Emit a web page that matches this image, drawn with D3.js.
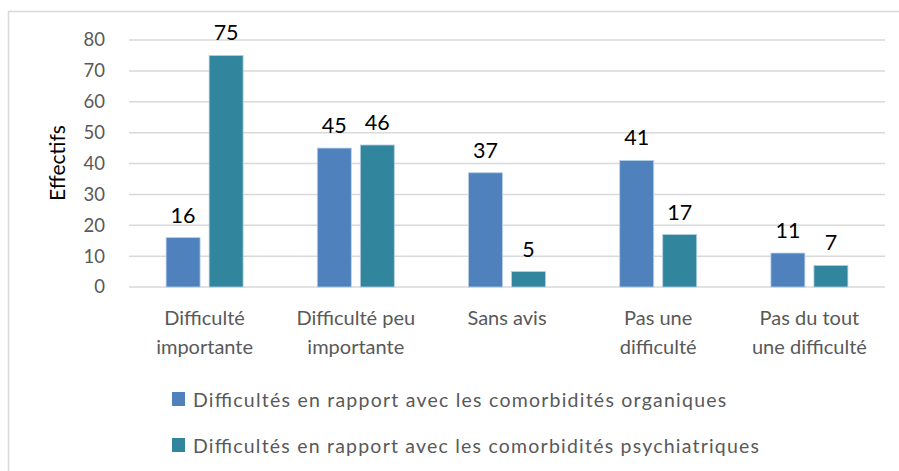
<!DOCTYPE html>
<html><head><meta charset="utf-8">
<script src="https://cdn.jsdelivr.net/npm/d3@7/dist/d3.min.js"></script>
<style>body{margin:0;background:#fff}svg{display:block}text{font-family:Lato,"Open Sans",sans-serif}</style>
</head><body><div id="c"></div>
<script>
const categories = [["Difficulté","importante"],["Difficulté peu","importante"],["Sans avis"],["Pas une","difficulté"],["Pas du tout","une difficulté"]];
const organiques = [16,45,37,41,11];
const psychiatriques = [75,46,5,17,7];
const seriesNames = ["Difficultés en rapport avec les comorbidités organiques","Difficultés en rapport avec les comorbidités psychiatriques"];
const yTicks = [0,10,20,30,40,50,60,70,80];
const colors = ["#4f81bd","#31859c"];

(function(){
const W=899,H=471;
const svg=d3.select("#c").append("svg").attr("width",W).attr("height",H);
svg.append("rect").attr("x",8.5).attr("y",11.5).attr("width",W).attr("height",H).attr("fill","#fff").attr("stroke","#d9d9d9").attr("stroke-width",1.5);

const pL=129,pR=885,pT=40,pB=287;
const y=d3.scaleLinear().domain([0,80]).range([pB,pT]);
const x=d3.scaleBand().domain(d3.range(categories.length)).range([pL,pR]);
const GW=77;
const xs=d3.scaleBand().domain([0,1]).range([0,GW]).paddingInner(0.21);

svg.append("g").selectAll("line").data(yTicks).join("line")
 .attr("x1",pL).attr("x2",pR).attr("y1",d=>y(d)).attr("y2",d=>y(d))
 .attr("stroke","#d9d9d9").attr("stroke-width",1.5);

const ya=svg.append("g").attr("transform",`translate(${105},0)`)
 .call(d3.axisLeft(y).tickValues(yTicks).tickSize(0).tickPadding(0));
ya.select(".domain").remove();
ya.selectAll("text").attr("font-size",18.5).attr("fill","#595959").attr("font-family","Lato");

svg.append("text").attr("transform","translate(65,163) rotate(-90)").attr("text-anchor","middle")
 .attr("font-size",21).attr("fill","#000").text("Effectifs");

const series=[organiques,psychiatriques];
series.forEach((vals,s)=>{
  const g=svg.append("g");
  const bx=(i)=>x(i)+x.bandwidth()/2-GW/2+xs(s);
  g.selectAll("rect").data(vals).join("rect")
   .attr("x",(d,i)=>bx(i))
   .attr("width",xs.bandwidth())
   .attr("y",d=>y(d)).attr("height",d=>y(0)-y(d))
   .attr("fill",colors[s]).attr("stroke","#b7d0e6").attr("stroke-width",0.8);
  g.selectAll("text").data(vals).join("text")
   .attr("x",(d,i)=>bx(i)+xs.bandwidth()/2)
   .attr("y",d=>y(d)-15).attr("text-anchor","middle")
   .attr("font-size",21.5).attr("fill","#000").text(d=>d);
});

const cg=svg.append("g");
categories.forEach((lines,i)=>{
  const t=cg.append("text").attr("text-anchor","middle").attr("font-size",20).attr("fill","#595959");
  lines.forEach((l,j)=>t.append("tspan").attr("x",x(i)+x.bandwidth()/2).attr("y",325+j*29).text(l));
});

const lt=[];
seriesNames.forEach((n,i)=>{
  const yy=392+i*46;
  svg.append("rect").attr("x",172).attr("y",yy).attr("width",13).attr("height",14).attr("fill",colors[i]);
  lt.push(svg.append("text").attr("x",193).attr("y",yy+14.5).attr("font-size",19.5).attr("fill","#595959").text(n));
});
const k=566/lt[1].node().getComputedTextLength();
lt.forEach(t=>{const w=t.node().getComputedTextLength();t.attr("textLength",w*k).attr("lengthAdjust","spacing");});
})();
</script></body></html>
